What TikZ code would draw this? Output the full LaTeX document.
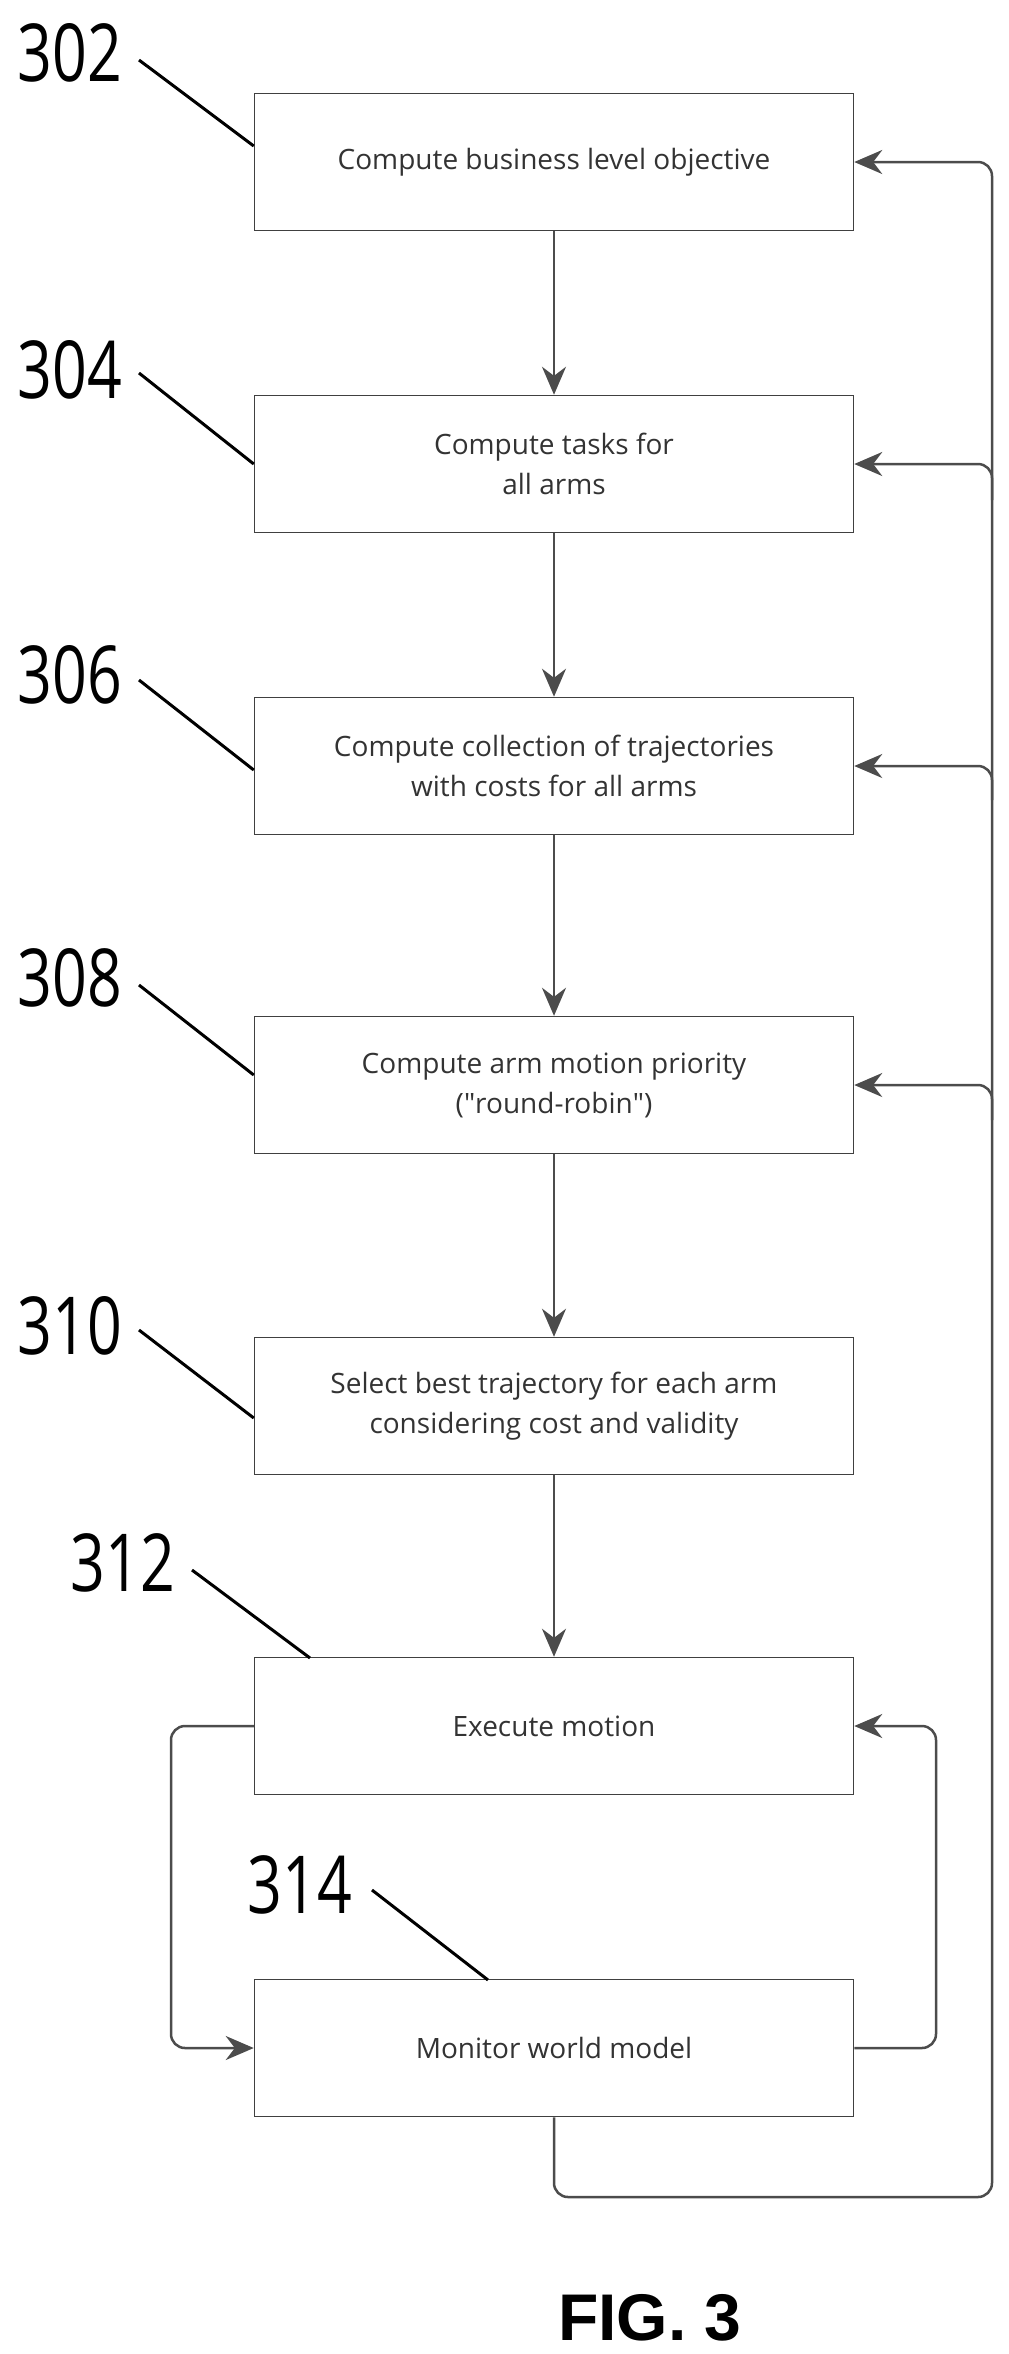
\documentclass[tikz,border=0pt]{standalone}
\usepackage{fontspec}
\setmainfont{Open Sans}
\newfontfamily\labfont{Open Sans}
\newfontfamily\figfont{Liberation Sans}
\usetikzlibrary{arrows.meta}
\begin{document}
\begin{tikzpicture}[x=1pt,y=-1pt,
  box/.style={draw=black!75,line width=1.5pt,minimum width=599pt,minimum height=137pt,inner sep=0pt,align=center,font=\fontsize{28}{40}\selectfont,text=black!80},
  arr/.style={draw=black!70,line width=2.5pt,-{Stealth[length=28pt,width=24pt]},rounded corners=14pt},
  lead/.style={draw=black,line width=3pt},
  lab/.style={font=\labfont\fontsize{80}{80}\selectfont,xscale=0.76,inner sep=0pt}]
\useasboundingbox (0,0) rectangle (1009,2354);
\node[box] (b1) at (554,162) {Compute business level objective};
\node[box] (b2) at (554,464) {Compute tasks for\\all arms};
\node[box] (b3) at (554,766) {Compute collection of trajectories\\with costs for all arms};
\node[box] (b4) at (554,1085) {Compute arm motion priority\\(\textquotedbl round-robin\textquotedbl)};
\node[box] (b5) at (554,1406) {Select best trajectory for each arm\\considering cost and validity};
\node[box] (b6) at (554,1726) {Execute motion};
\node[box] (b7) at (554,2048) {Monitor world model};
\node[lab] (l1) at (70,53) {302};
\node[lab] (l2) at (70,370) {304};
\node[lab] (l3) at (70,675) {306};
\node[lab] (l4) at (70,978) {308};
\node[lab] (l5) at (70,1326) {310};
\node[lab] (l6) at (123,1563) {312};
\node[lab] (l7) at (300,1885) {314};
\coordinate (t1) at (139,60); \coordinate (t2) at (139,373);
\coordinate (t3) at (139,680); \coordinate (t4) at (139,985);
\coordinate (t5) at (139,1330); \coordinate (t6) at (192,1570);
\coordinate (t7) at (372,1890);
\draw[lead] (t1) -- (b1.west |- 0,146);
\draw[lead] (t2) -- (b2.west |- 0,464);
\draw[lead] (t3) -- (b3.west |- 0,770);
\draw[lead] (t4) -- (b4.west |- 0,1075);
\draw[lead] (t5) -- (b5.west |- 0,1418);
\draw[lead] (t6) -- (310,1658);
\draw[lead] (t7) -- (488,1980);
\draw[arr] (b1) -- (b2);
\draw[arr] (b2) -- (b3);
\draw[arr] (b3) -- (b4);
\draw[arr] (b4) -- (b5);
\draw[arr] (b5) -- (b6);
\draw[arr] (b6.west) -- (171,1726) -- (171,2048) -- (b7.west);
\draw[arr] (b7.east) -- (936,2048) -- (936,1726) -- (b6.east);
\coordinate (c0) at (554,2197);
\coordinate (c1) at (992,2197);
\draw[arr] (b7.south) -- (c0) -- (c1) -- (992,162) -- (b1.east);
\draw[arr] (992,500) -- (992,464) -- (b2.east);
\draw[arr] (992,800) -- (992,766) -- (b3.east);
\draw[arr] (992,1120) -- (992,1085) -- (b4.east);
\node[font=\figfont\bfseries\fontsize{66}{66}\selectfont,inner sep=0pt] (fig) at (650,2318) {FIG. 3};
\end{tikzpicture}
\end{document}
